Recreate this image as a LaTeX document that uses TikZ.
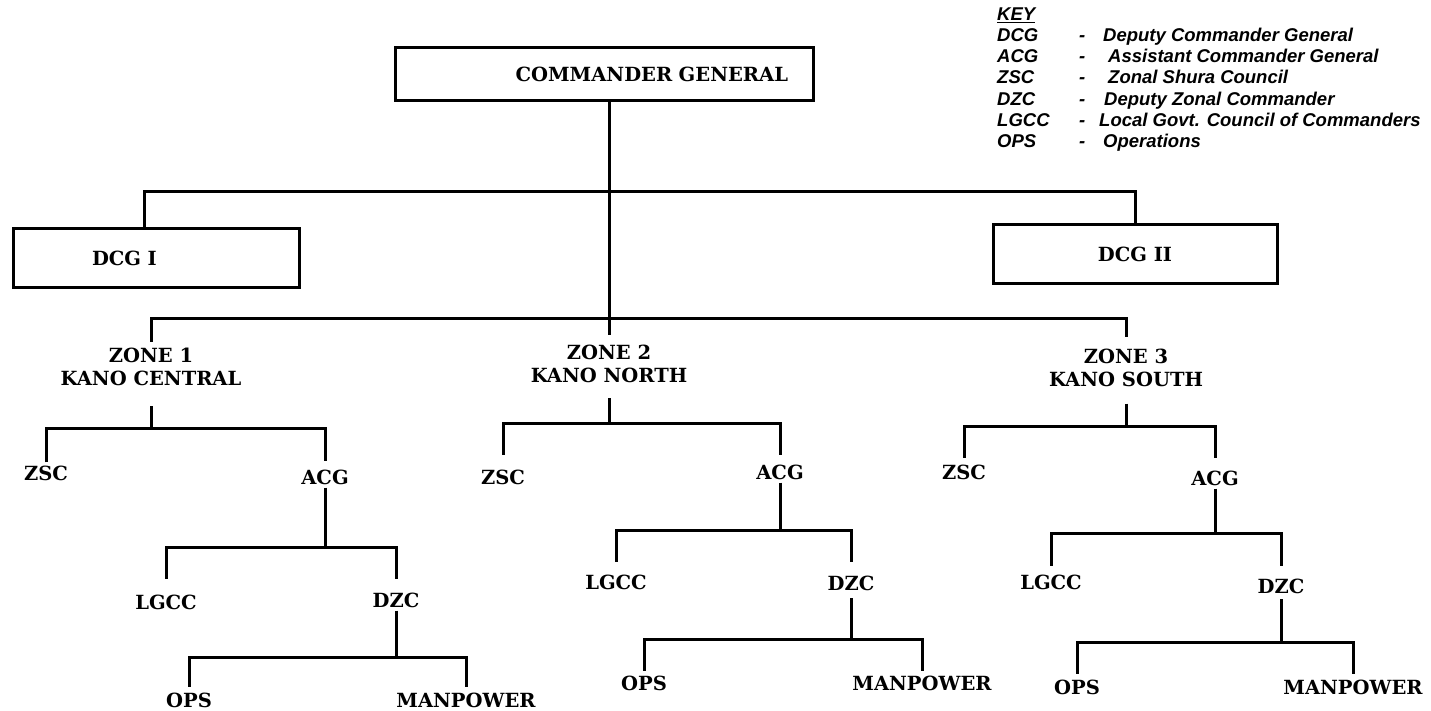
\documentclass[tikz,border=0pt]{standalone}
\usepackage{fontspec}
\newfontfamily\keyface{Liberation Sans}
\newfontfamily\unitface{DejaVu Serif}
\newcommand\unitfont{\unitface\fontsize{19.5}{23}\selectfont\bfseries}
\newcommand\keyfont{\keyface\fontsize{18.5}{22}\selectfont\bfseries\itshape}

\begin{document}
\begin{tikzpicture}[x=1pt, y=-1pt,
  box/.style={draw, line width=3pt, font=\unitfont, inner sep=0pt},
  unit/.style={font=\unitfont, inner sep=3pt, align=center},
  link/.style={line width=3pt},
  keytext/.style={font=\keyfont, inner sep=0pt, anchor=base west}]

  \useasboundingbox (0,0) rectangle (1431,711);

  %% top boxes
  \node[box, minimum width=418pt, minimum height=53pt, text width=368pt, align=right] (cg) at (604,74.5) {COMMANDER GENERAL};
  \node[box, minimum width=286pt, minimum height=58pt, text width=128pt, align=left] (dcg1) at (156,258) {DCG I};
  \node[box, minimum width=284pt, minimum height=58pt] (dcg2) at (1135,254) {DCG II};

  %% zones
  \node[unit] (zone1) at (151,366.5) {ZONE 1\\KANO CENTRAL};
  \node[unit] (zone2) at (609,363.5) {ZONE 2\\KANO NORTH};
  \node[unit] (zone3) at (1126,368) {ZONE 3\\KANO SOUTH};

  %% zone 1
  \node[unit] (zsc1) at (46,473) {ZSC};
  \node[unit] (acg1) at (325,477) {ACG};
  \node[unit] (lgcc1) at (166,602) {LGCC};
  \node[unit] (dzc1) at (396,600) {DZC};
  \node[unit] (ops1) at (189,700) {OPS};
  \node[unit] (man1) at (466,700) {MANPOWER};

  %% zone 2
  \node[unit] (zsc2) at (503,477) {ZSC};
  \node[unit] (acg2) at (780,472) {ACG};
  \node[unit] (lgcc2) at (616,582) {LGCC};
  \node[unit] (dzc2) at (851,583) {DZC};
  \node[unit] (ops2) at (644,683) {OPS};
  \node[unit] (man2) at (922,683) {MANPOWER};

  %% zone 3
  \node[unit] (zsc3) at (964,472) {ZSC};
  \node[unit] (acg3) at (1215,478) {ACG};
  \node[unit] (lgcc3) at (1051,582) {LGCC};
  \node[unit] (dzc3) at (1281,586) {DZC};
  \node[unit] (ops3) at (1077,687) {OPS};
  \node[unit] (man3) at (1353,687) {MANPOWER};

  %% bar points
  \coordinate (mid) at (609,192);
  \coordinate (top) at (609,318);
  \coordinate (z1) at (151,428);
  \coordinate (a1) at (325,547);
  \coordinate (d1) at (396,657);
  \coordinate (z2) at (609,423);
  \coordinate (a2) at (780,530);
  \coordinate (d2) at (851,639);
  \coordinate (z3) at (1126,426);
  \coordinate (a3) at (1215,533);
  \coordinate (d3) at (1281,642);

  \draw[link, shorten >=6.5pt] (zone2.north |- cg.south) -- (zone2.north); %% CG->zone 2
  \draw[link] ([xshift=-12pt]dcg1.north) |- (mid) -| (dcg2.north); %% DCG I, DCG II
  \draw[link, shorten <=2.5pt, shorten >=8.5pt] (zone1.north) |- (top) -| (zone3.north); %% zones

  \draw[link, shorten <=17.5pt] (zone1.south) -- (z1);
  \draw[link, shorten >=5.5pt] (zsc1.north) |- (z1) -| (acg1.north);
  \draw[link] (acg1.south) -- (a1);
  \draw[link, shorten <=12.5pt, shorten >=10.5pt] (lgcc1.north) |- (a1) -| (dzc1.north);
  \draw[link] (dzc1.south) -- (d1);
  \draw[link, shorten <=2.5pt, shorten >=2.5pt] (ops1.north) |- (d1) -| (man1.north);

  \draw[link, shorten <=12.5pt] (zone2.south) -- (z2);
  \draw[link, shorten <=11.5pt, shorten >=6.5pt] (zsc2.north) |- (z2) -| (acg2.north);
  \draw[link] (acg2.south) -- (a2);
  \draw[link, shorten <=9.5pt, shorten >=10.5pt] (lgcc2.north) |- (a2) -| (dzc2.north);
  \draw[link, shorten <=4.5pt] (dzc2.south) -- (d2);
  \draw[link, shorten <=1.5pt, shorten >=1.5pt] (ops2.north) |- (d2) -| (man2.north);

  \draw[link, shorten <=13.5pt] (zone3.south) -- (z3);
  \draw[link, shorten <=3.5pt, shorten >=9.5pt] (zsc3.north) |- (z3) -| (acg3.north);
  \draw[link] (acg3.south) -- (a3);
  \draw[link, shorten <=5.5pt, shorten >=9.5pt] (lgcc3.north) |- (a3) -| (dzc3.north);
  \draw[link, shorten <=2.5pt] (dzc3.south) -- (d3);
  \draw[link, shorten <=2.5pt, shorten >=2.5pt] (ops3.north) |- (d3) -| (man3.north);

  %% key
  \node[keytext] (keyhead) at (997,20.5) {\underline{KEY}};
  \foreach \ab/\txt/\dx [count=\i] in {DCG/Deputy Commander General/0,
      ACG/Assistant Commander General/5, ZSC/Zonal Shura Council/5,
      DZC/Deputy Zonal Commander/1, LGCC/Local Govt. Council of Commanders/-4,
      OPS/Operations/0}
  {
    \node[keytext] (ab\i) at (997,{41.5+21.2*(\i-1)}) {\ab};
    \node[keytext] (dash\i) at (1079,{41.5+21.2*(\i-1)}) {-};
    \node[keytext] (txt\i) at ({1103+\dx},{41.5+21.2*(\i-1)}) {\txt};
  }
\end{tikzpicture}
\end{document}
